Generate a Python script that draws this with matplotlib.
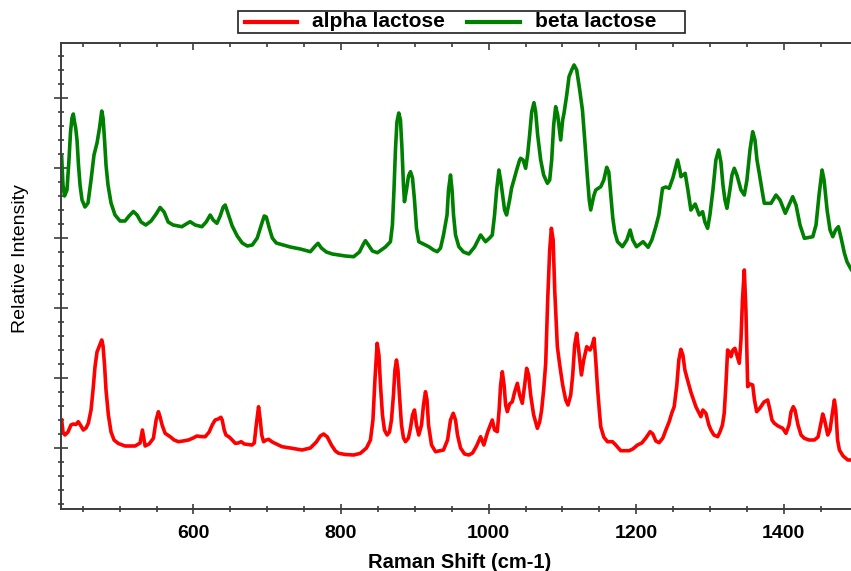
import matplotlib
matplotlib.use("Agg")
import matplotlib.pyplot as plt
from matplotlib.ticker import MultipleLocator, NullFormatter
from matplotlib.patches import Rectangle
from matplotlib.lines import Line2D

plt.rcParams['font.family'] = ['Liberation Sans', 'DejaVu Sans']

# beta lactose spectrum (Raman shift cm-1, intensity a.u., offset)
beta_x = [421.4, 423.2, 425.2, 428.6, 431.3, 433.4, 435.4, 437.2, 438.8, 440.4,
          442.2, 444.2, 446.3, 449.0, 453.0, 457.1, 461.2, 465.2, 469.3, 472.7,
          475.7, 477.5, 479.5, 481.5, 484.2, 488.3, 493.7, 500.5, 507.3, 512.7,
          518.6, 523.6, 529.0, 535.4, 542.6, 549.4, 554.8, 560.2, 565.7, 572.5,
          584.3, 590.1, 595.5, 602.3, 611.4, 617.2, 622.7, 626.7, 631.8, 636.2,
          640.3, 643.0, 647.1, 652.5, 659.3, 666.1, 672.9, 679.7, 686.4, 691.9,
          695.9, 698.7, 702.7, 706.8, 712.2, 721.7, 731.2, 744.8, 758.4, 765.1,
          768.8, 773.3, 780.1, 788.2, 805.9, 817.1, 824.9, 830.3, 833.0, 837.1,
          842.5, 849.3, 860.1, 866.9, 869.6, 871.7, 873.7, 875.7, 878.2, 880.5,
          882.5, 884.6, 885.9, 888.6, 891.4, 894.1, 896.8, 899.5, 902.2, 905.3,
          911.7, 918.9, 925.3, 930.3, 934.8, 938.8, 943.6, 945.6, 948.3, 950.4,
          952.4, 955.1, 959.6, 966.0, 973.2, 980.9, 989.1, 995.8, 1001.3, 1004.9,
          1008.0, 1010.8, 1013.9, 1016.2, 1018.9, 1021.6, 1024.3, 1028.4, 1031.1, 1034.2,
          1037.9, 1042.0, 1043.3, 1046.7, 1050.1, 1052.8, 1055.5, 1058.3, 1061.4, 1063.7,
          1066.4, 1070.5, 1074.5, 1079.6, 1082.7, 1085.4, 1088.1, 1090.8, 1093.5, 1097.6,
          1100.3, 1102.1, 1105.8, 1108.9, 1112.5, 1115.7, 1119.3, 1123.4, 1127.1, 1130.2,
          1133.8, 1136.3, 1138.3, 1142.4, 1145.1, 1151.9, 1156.0, 1160.0, 1162.8, 1165.5,
          1168.2, 1170.9, 1174.6, 1181.3, 1187.2, 1191.7, 1195.3, 1200.3, 1209.3, 1216.1,
          1221.1, 1226.5, 1230.6, 1235.6, 1240.1, 1244.6, 1249.6, 1256.0, 1259.1, 1260.5,
          1266.3, 1270.0, 1274.0, 1279.9, 1285.3, 1289.9, 1293.0, 1296.7, 1299.8, 1303.9,
          1307.9, 1311.6, 1314.7, 1317.5, 1320.2, 1322.9, 1326.9, 1329.7, 1332.8, 1336.4,
          1341.9, 1346.4, 1350.0, 1354.1, 1357.8, 1360.9, 1363.6, 1366.7, 1370.4, 1373.5,
          1382.6, 1389.4, 1394.8, 1402.0, 1407.0, 1412.0, 1416.5, 1421.9, 1427.8, 1439.2,
          1443.6, 1447.7, 1451.8, 1454.5, 1458.6, 1462.6, 1466.3, 1470.1, 1473.9, 1477.6,
          1482.1, 1485.7, 1491.1]
beta_y = [291.3, 263, 252, 258, 288, 316, 330, 334, 326, 320,
          308, 283, 263, 248, 241, 245, 268, 293, 305, 320,
          337, 330, 308, 283, 263, 245, 233, 227, 227, 232,
          236.5, 233, 226, 223, 227, 234, 240.5, 236, 226, 223,
          221.3, 224, 226.3, 223, 221.3, 226, 233, 228, 224.7, 232,
          241, 243, 234, 222, 212, 205, 202, 203, 210, 223,
          232, 231, 220, 210, 205, 203, 201, 199, 196.3, 202,
          204.7, 200, 196, 194, 192, 191.3, 196, 204, 207.3, 203,
          197, 195.3, 201, 206.3, 223, 258, 298, 326, 335, 328,
          300, 262, 246.3, 258, 272, 276.3, 270, 248, 220, 206.3,
          204, 201.3, 198, 196.3, 200, 213, 233, 258, 273, 258,
          233, 213, 201.3, 196, 194, 201, 213, 206.3, 210, 213,
          233, 258, 278, 268, 253, 238, 233, 248, 260, 268,
          278, 288, 289.7, 288, 279.7, 293, 313, 336, 345.3, 336,
          313, 288, 273, 264.7, 268, 288, 323, 341.3, 333, 308,
          328, 334.7, 353, 371.3, 378, 383, 378, 358, 338, 308,
          271.3, 248, 238, 252, 258, 261.3, 268, 280.7, 276, 253,
          230, 216, 206.3, 201.3, 208, 218, 208, 201.3, 206.3, 200.7,
          208, 221.3, 233, 259.7, 261, 259.7, 270, 288, 278, 271.3,
          274.7, 258, 238, 244, 233, 236.3, 226, 219.7, 233, 258,
          288, 298, 286, 263, 248, 239.7, 258, 273, 279.7, 273,
          258, 253, 268, 298, 316.3, 308, 288, 274.7, 258, 244.7,
          244.7, 253, 248, 234.7, 243, 251.3, 243, 223, 209.7, 211.3,
          223, 253, 278, 268, 238, 218, 211.3, 218, 221.3, 210,
          194.7, 186, 178.7]

# alpha lactose spectrum
alpha_x = [421.4, 423.2, 425.9, 430.0, 434.0, 437.2, 440.8, 443.9, 447.6, 450.7,
           454.4, 457.5, 461.2, 463.9, 466.6, 469.3, 472.0, 475.7, 477.5, 479.5,
           481.5, 484.7, 488.3, 492.4, 498.2, 507.3, 520.9, 527.7, 530.8, 533.1,
           534.5, 539.9, 545.7, 549.4, 552.5, 554.8, 557.5, 561.6, 568.4, 573.8,
           579.6, 586.0, 593.2, 599.6, 604.6, 609.1, 615.9, 621.3, 625.4, 629.4,
           633.5, 637.2, 638.9, 641.7, 644.0, 648.4, 652.5, 656.6, 660.7, 664.7,
           668.8, 679.3, 682.4, 685.1, 688.2, 690.5, 692.5, 695.0, 698.7, 701.8,
           706.8, 720.0, 731.2, 747.1, 758.4, 766.5, 771.9, 776.4, 781.4, 786.9,
           792.3, 796.8, 805.9, 817.1, 826.2, 834.4, 839.8, 843.2, 845.9, 848.9,
           851.3, 853.4, 856.1, 858.8, 862.4, 865.6, 868.3, 871.0, 873.0, 875.1,
           877.1, 879.1, 881.9, 884.6, 887.3, 891.3, 894.1, 896.8, 899.5, 902.2,
           905.3, 909.0, 911.7, 914.4, 916.5, 918.5, 922.6, 928.0, 938.8, 944.3,
           948.3, 952.0, 955.1, 957.8, 961.9, 967.3, 973.2, 978.2, 983.6, 989.1,
           993.5, 998.6, 1004.9, 1008.0, 1011.7, 1014.2, 1016.2, 1018.5, 1020.9, 1023.0,
           1025.3, 1028.4, 1032.1, 1035.2, 1038.9, 1042.0, 1045.6, 1048.8, 1051.5, 1054.2,
           1056.9, 1061.0, 1066.0, 1069.1, 1071.8, 1074.5, 1077.3, 1080.0, 1082.7, 1085.0,
           1087.4, 1089.5, 1093.1, 1096.3, 1100.3, 1104.4, 1107.5, 1111.2, 1113.9, 1116.6,
           1119.3, 1122.0, 1125.7, 1128.8, 1132.9, 1137.4, 1140.4, 1142.8, 1145.1, 1147.4,
           1149.9, 1151.9, 1156.0, 1161.0, 1167.8, 1172.2, 1179.0, 1190.3, 1195.3, 1201.7,
           1207.5, 1213.0, 1218.8, 1222.5, 1226.5, 1231.0, 1236.0, 1240.1, 1244.6, 1248.2,
           1251.4, 1255.0, 1257.7, 1260.5, 1263.2, 1265.9, 1269.5, 1274.0, 1280.8, 1287.6,
           1290.3, 1294.4, 1298.4, 1301.2, 1305.2, 1310.3, 1313.4, 1316.8, 1319.2, 1321.5,
           1323.8, 1326.3, 1328.3, 1331.0, 1333.7, 1336.4, 1339.6, 1341.9, 1343.9, 1346.4,
           1348.6, 1351.0, 1354.1, 1357.8, 1360.2, 1363.2, 1367.7, 1373.1, 1378.1, 1381.2,
           1383.9, 1387.1, 1392.1, 1398.5, 1402.9, 1407.0, 1409.7, 1412.8, 1415.1, 1419.2,
           1423.3, 1427.8, 1434.1, 1441.3, 1446.4, 1449.8, 1452.7, 1455.2, 1459.5, 1462.6,
           1465.4, 1468.5, 1470.4, 1472.8, 1475.3, 1480.3, 1486.7, 1492.5]
alpha_y = [28, 16, 13, 16, 23, 24, 23.5, 26.3, 22, 18,
           20, 24.7, 38, 58, 81.3, 96, 101, 108, 102, 83,
           58, 33, 16, 8, 4.5, 2, 2, 5, 18, 8,
           2, 4, 9.7, 28, 36.3, 31, 23, 14.7, 11.3, 8,
           6.3, 7, 8, 10, 12, 11.5, 11.3, 16, 23, 28,
           29, 30.7, 28, 18, 13, 11, 8, 4.7, 5, 6.3,
           4, 3, 5, 23, 41.3, 28, 13, 6.3, 8, 8.7,
           6, 1.3, 0, -2, 0, 6, 12, 14, 11, 3,
           -3, -5.3, -6.5, -7, -5.3, 0, 8, 28, 68, 104.7,
           93, 63, 33, 18, 13, 16, 28, 53, 78, 88,
           78, 53, 23, 10, 6.3, 10, 20, 33, 38, 23,
           13, 23, 43, 56.3, 48, 23, 3, -3.7, -2, 8,
           28, 34.7, 28, 13, 0, -6, -7, -5, 2, 11.3,
           3, 16, 28, 18, 16.3, 38, 63, 76.3, 63, 43,
           36.3, 44, 46.3, 56, 64.7, 53, 44.7, 63, 79.7, 73,
           53, 33, 19.7, 26, 38, 58, 84.7, 148, 198, 219.7,
           208, 158, 101.3, 83, 63, 48, 43, 53, 73, 103,
           114.7, 98, 73, 88, 101.3, 98, 103, 109.7, 88, 61.3,
           38, 21.3, 11, 6.3, 6.3, 3, -2.7, -2.7, -1, 3,
           5, 10, 16.3, 14, 7, 5.3, 10, 18, 26.3, 35,
           41.3, 63, 88, 98.7, 93, 78, 68, 56, 41.3, 31.3,
           38, 34.7, 23, 18, 13, 11.3, 16, 23, 34.7, 63,
           98, 96, 91.3, 98, 99.7, 93, 84.7, 108, 148, 178,
           138, 61.3, 64, 63, 48, 36.3, 40, 46, 48, 38,
           28, 24.7, 22, 19.7, 14.7, 23, 36, 41.3, 38, 23,
           13, 9.7, 8, 8, 11, 23, 34, 28, 13, 18,
           33, 48, 38, 8, -2, -8, -12, -12]

labels = ['alpha lactose', 'beta lactose']
colors = ['#ff0000', '#008000']

W, H = 851, 571
fig = plt.figure(figsize=(W / 100, H / 100), dpi=100)
ax = fig.add_axes([61 / W, 1 - 509 / H, 1 - 61 / W, (509 - 43) / H])

ax.plot(alpha_x, alpha_y, color=colors[0], lw=2.6, solid_joinstyle='round')
ax.plot(beta_x, beta_y, color=colors[1], lw=2.6, solid_joinstyle='round')

ax.set_xlim(420.5, 1491)
ax.set_ylim(-61, 405)

ax.xaxis.set_major_locator(MultipleLocator(200))
ax.xaxis.set_minor_locator(MultipleLocator(50))
ax.yaxis.set_major_locator(MultipleLocator(70))
ax.yaxis.set_minor_locator(MultipleLocator(14))
ax.yaxis.set_major_formatter(NullFormatter())

spine_col = '#3c3c3c'
for s in ['left', 'bottom', 'top']:
    ax.spines[s].set_color(spine_col)
    ax.spines[s].set_linewidth(1.4)
ax.spines['right'].set_visible(False)

ax.tick_params(axis='y', which='major', direction='inout', length=10, width=1.2, color=spine_col)
ax.tick_params(axis='y', which='minor', direction='inout', length=4, width=1.2, color=spine_col)
ax.tick_params(axis='x', which='major', direction='inout', length=7, width=1.2, color=spine_col,
               pad=8, labelsize=14)
ax.tick_params(axis='x', which='minor', direction='inout', length=4, width=1.2, color=spine_col)
for t in ax.get_xticklabels():
    t.set_fontweight('bold')

top = ax.secondary_xaxis('top')
top.xaxis.set_major_locator(MultipleLocator(200))
top.xaxis.set_minor_locator(MultipleLocator(50))
top.xaxis.set_major_formatter(NullFormatter())
top.tick_params(which='major', direction='in', length=5, width=1.2, color=spine_col)
top.tick_params(which='minor', direction='in', length=3, width=1.2, color=spine_col)
top.spines['top'].set_visible(False)

fig.text(460 / W, 1 - 568 / H, 'Raman Shift (cm-1)', ha='center', va='baseline',
         fontsize=14.5, fontweight='bold')
fig.text(21 / W, 1 - 259 / H, 'Relative Intensity', ha='center', va='center',
         rotation=90, fontsize=14)

# legend box drawn at the top, outside the axes
fig.patches.append(Rectangle((238 / W, 1 - 33 / H), (685 - 238) / W, 22 / H,
                             transform=fig.transFigure, fill=False,
                             edgecolor='#202020', linewidth=1.2))
leg_line_x = [(245, 297), (467, 520)]
leg_text_x = [312, 535]
for lab, col, (x0, x1), tx in zip(labels, colors, leg_line_x, leg_text_x):
    fig.lines.append(Line2D([x0 / W, x1 / W], [1 - 22 / H, 1 - 22 / H],
                            transform=fig.transFigure, color=col, lw=3))
    fig.text(tx / W, 1 - 21.5 / H, lab, ha='left', va='center',
             fontsize=15, fontweight='bold')

fig.savefig('out.png', dpi=100)
